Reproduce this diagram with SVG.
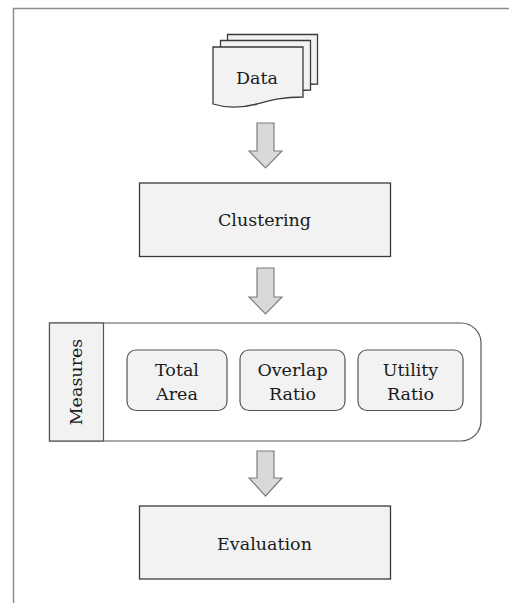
<svg xmlns="http://www.w3.org/2000/svg" width="509" height="603" viewBox="0 0 509 603">
<style>
.box{fill:#f2f2f2;stroke:#3a3a3a;stroke-width:1.3}
.doc{fill:#f2f2f2;stroke:#3a3a3a;stroke-width:1.3}
.inner{fill:#f2f2f2;stroke:#555;stroke-width:1.2}
.cont{fill:#fff;stroke:#555;stroke-width:1.2}
.arr{fill:#d9d9d9;stroke:#7f7f7f;stroke-width:1.2;stroke-linejoin:miter}
.t{font-family:'DejaVu Serif',serif;font-size:17.5px;fill:#1a1a1a;text-anchor:middle}
.frame{fill:none;stroke:#8c8c8c;stroke-width:1.5}
</style>
<rect width="509" height="603" fill="#fff"/>
<path class="frame" d="M13.5,603 V8.5 H509"/>
<g id="connectors">
<path class="arr" d="M257,123 H274 V151 H282 L265.5,168 L249,151 H257 Z"/>
<path class="arr" d="M257,268 H274 V297 H282 L265.5,314 L249,297 H257 Z"/>
<path class="arr" d="M257,451 H274 V478 H282 L265.5,496 L249,478 H257 Z"/>
</g>
<g id="data">
<path class="doc" d="M227.5,34.5 H317.5 V84 C297,84 287,87 272,91 C257,95 244,96 227.5,91 Z"/>
<path class="doc" d="M220.5,40.5 H310.5 V90 C290,90 280,93 265,97 C250,101 237,102 220.5,97 Z"/>
<path class="doc" d="M213,47 H303 V97 C283,97 272,100 257,104 C242,108 229,109 213,104 Z"/>
<text class="t" x="257" y="84">Data</text>
</g>
<g id="clustering">
<rect class="box" x="139.5" y="183" width="251" height="73.5"/>
<text class="t" x="264.5" y="226">Clustering</text>
</g>
<g id="measures">
<path class="cont" d="M49.5,323 H461 A20,20 0 0 1 481,343 V421 A20,20 0 0 1 461,441 H49.5 Z"/>
<rect x="49.5" y="323" width="54" height="118" fill="#f2f2f2" stroke="#555" stroke-width="1.2"/>
<text class="t" transform="translate(82,382) rotate(-90)">Measures</text>
</g>
<g id="total-area">
<rect class="inner" x="127" y="350" width="100" height="60.5" rx="9"/>
<text class="t" x="177" y="376">Total</text>
<text class="t" x="177" y="400">Area</text>
</g>
<g id="overlap-ratio">
<rect class="inner" x="240" y="350" width="105" height="60.5" rx="9"/>
<text class="t" x="292.5" y="376">Overlap</text>
<text class="t" x="292.5" y="400">Ratio</text>
</g>
<g id="utility-ratio">
<rect class="inner" x="358" y="350" width="105" height="60.5" rx="9"/>
<text class="t" x="410.5" y="376">Utility</text>
<text class="t" x="410.5" y="400">Ratio</text>
</g>
<g id="evaluation">
<rect class="box" x="139.5" y="506" width="251" height="73"/>
<text class="t" x="264.5" y="550">Evaluation</text>
</g>
</svg>
